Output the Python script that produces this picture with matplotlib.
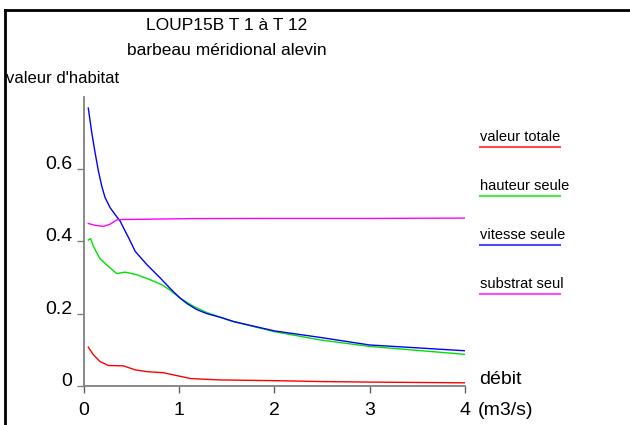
import numpy as np
import matplotlib
matplotlib.use("Agg")
import matplotlib.pyplot as plt
from matplotlib.lines import Line2D

# values
debit_total = [0.045, 0.098, 0.168, 0.256, 0.414, 0.537, 0.66, 0.835, 0.975, 1.116, 1.256, 1.43, 2.0, 2.48, 3.0, 4.0]
valeur_totale = [0.107, 0.086, 0.067, 0.056, 0.055, 0.044, 0.039, 0.036, 0.028, 0.02, 0.018, 0.016, 0.014, 0.0115, 0.01, 0.008]

debit_hauteur = [0.045, 0.07, 0.098, 0.168, 0.256, 0.344, 0.432, 0.554, 0.695, 0.818, 0.905, 1.01, 1.151, 1.29, 1.43,
                 1.57, 2.0, 2.48, 3.0, 4.0]
hauteur_seule = [0.404, 0.408, 0.387, 0.352, 0.331, 0.311, 0.315, 0.308, 0.294, 0.28, 0.265, 0.243, 0.22, 0.203, 0.19,
                 0.178, 0.15, 0.127, 0.109, 0.087]

debit_vitesse = [0.045, 0.081, 0.116, 0.151, 0.186, 0.221, 0.274, 0.326, 0.379, 0.432, 0.477, 0.537, 0.66, 0.8, 0.923,
                 1.01, 1.081, 1.186, 1.29, 1.43, 1.57, 2.0, 2.48, 3.0, 4.0]
vitesse_seule = [0.77, 0.703, 0.647, 0.596, 0.554, 0.522, 0.494, 0.475, 0.457, 0.429, 0.406, 0.373, 0.336, 0.299, 0.265,
                 0.243, 0.228, 0.211, 0.2, 0.19, 0.178, 0.152, 0.134, 0.113, 0.097]

debit_substrat = [0.045, 0.116, 0.204, 0.274, 0.344, 0.414, 1.116, 2.0, 3.0, 4.0]
substrat_seul = [0.45, 0.445, 0.442, 0.448, 0.46, 0.461, 0.4635, 0.464, 0.464, 0.465]

series = [
    (debit_total, valeur_totale, "#ff0000", "valeur totale"),
    (debit_hauteur, hauteur_seule, "#00e000", "hauteur seule"),
    (debit_vitesse, vitesse_seule, "#0000ff", "vitesse seule"),
    (debit_substrat, substrat_seul, "#ff00ff", "substrat seul"),
]

x_ticks = [0, 1, 2, 3, 4]
y_ticks = [0, 0.2, 0.4, 0.6]
y_tick_labels = ["0", "0.2", "0.4", "0.6"]

W, H = 630, 425
plt.rcParams["font.family"] = ["Liberation Sans", "DejaVu Sans"]


def fx(px):
    return px / W


def fy(py):
    return 1 - py / H


fig = plt.figure(figsize=(W / 100, H / 100), dpi=100)
ax = fig.add_axes([fx(84), fy(385.7), fx(464.7) - fx(84), fy(97.3) - fy(385.7)])

for xs, ys, col, lab in series:
    ax.plot(xs, ys, color=col, lw=1.0)

ax.set_xlim(0, 4)
ax.set_ylim(0, 0.8)
for s in ["top", "right"]:
    ax.spines[s].set_visible(False)
for s in ["left", "bottom"]:
    ax.spines[s].set_color("#808080")
    ax.spines[s].set_linewidth(1.3)

ax.set_xticks(x_ticks)
ax.set_xticklabels([str(t) for t in x_ticks], fontsize=14)
ax.set_yticks(y_ticks)
ax.set_yticklabels(y_tick_labels, fontsize=14, va="baseline")
ax.tick_params(axis="x", direction="out", length=5, width=1.0, color="#606060", pad=7)
ax.tick_params(axis="y", direction="out", length=5, width=1.0, color="#808080", pad=3.5)

# titles and axis captions
fig.text(fx(227), fy(30), "LOUP15B T 1 à T 12", ha="center", va="baseline", fontsize=12.5)
fig.text(fx(227), fy(55), "barbeau méridional alevin", ha="center", va="baseline", fontsize=12.5)
fig.text(fx(6), fy(83), "valeur d'habitat", ha="left", va="baseline", fontsize=12)
fig.text(fx(479), fy(384), "débit", ha="left", va="baseline", fontsize=14)
fig.text(fx(478), fy(415), "(m3/s)", ha="left", va="baseline", fontsize=14)

# legend: label with coloured underline
leg_y = [140.7, 190, 239.3, 288.3]
for (xs, ys, col, lab), ly in zip(series, leg_y):
    fig.text(fx(480), fy(ly), lab, ha="left", va="baseline", fontsize=10.5)
    fig.add_artist(Line2D([fx(480), fx(560)], [fy(ly + 6), fy(ly + 6)], color=col, lw=1.5, alpha=0.7))

# outer frame (top and left)
fig.add_artist(Line2D([fx(5), 1.0], [fy(10), fy(10)], color="black", lw=2))
fig.add_artist(Line2D([fx(5), fx(5)], [fy(10), 0.0], color="black", lw=2))

fig.savefig("out.png", dpi=100)
